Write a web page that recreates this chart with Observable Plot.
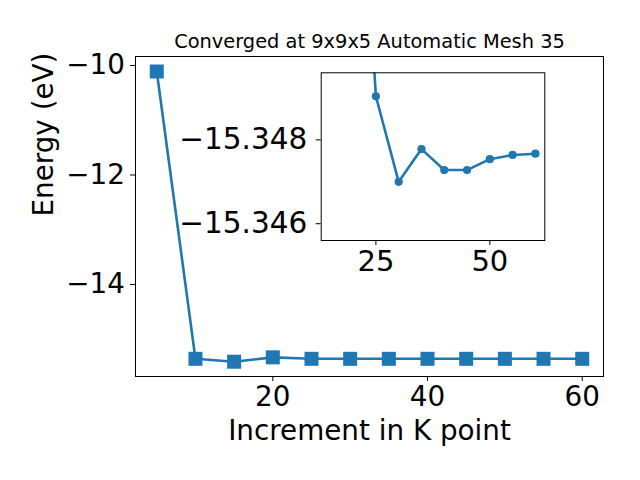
<!DOCTYPE html>
<html>
<head>
<meta charset="utf-8">
<script src="https://cdn.jsdelivr.net/npm/d3@7"></script>
<script src="https://cdn.jsdelivr.net/npm/@observablehq/plot@0.6"></script>
<style>
  html, body { margin: 0; padding: 0; background: white; }
  #wrap { position: relative; width: 640px; height: 480px; overflow: hidden; }
  #wrap svg { position: absolute; left: 0; top: 0; }
</style>
</head>
<body>
<div id="wrap"></div>
<script>
// Main series
const kPoints = [5, 10, 15, 20, 25, 30, 35, 40, 45, 50, 55, 60];
const energies = [-10.11, -15.357, -15.41, -15.33, -15.357, -15.357, -15.357, -15.357, -15.357, -15.357, -15.357, -15.357];
// Inset series (zoomed view)
const insetK = [20, 25, 30, 35, 40, 45, 50, 55, 60];
const insetE = [-15.3578, -15.34904, -15.3470, -15.34778, -15.34728, -15.34728, -15.34754, -15.34764, -15.34767];
const mainXTicks = [20, 40, 60];
const mainYTicks = [-10, -12, -14];
const insetXTicks = [25, 50];
const insetYTicks = [-15.348, -15.346];
const titleText = "Converged at 9x9x5 Automatic Mesh 35";
const xLabel = "Increment in K point";
const yLabel = "Energy (eV)";

const blue = "#1f77b4";
const font = "DejaVu Sans, sans-serif";

const main = kPoints.map((k, i) => ({k, e: energies[i]}));
const inset = insetK.map((k, i) => ({k, e: insetE[i]}));

const fmtInt = d3.format("d");
const fmt3 = d3.format(".3f");

const mainPlot = Plot.plot({
  width: 640,
  height: 480,
  marginLeft: 135,
  marginRight: 37,
  marginTop: 56,
  marginBottom: 104,
  style: {fontFamily: font, background: "transparent", color: "black"},
  x: {domain: [2.25, 62.75]},
  y: {domain: [-15.68, -9.836]},
  marks: [
    Plot.axisX({ticks: mainXTicks, tickSize: 5, tickPadding: 5, fontSize: 27.8, label: null, tickFormat: fmtInt}),
    Plot.axisY({ticks: mainYTicks, tickSize: 5, tickPadding: 5.5, fontSize: 27.8, label: null, tickFormat: fmtInt}),
    Plot.line(main, {x: "k", y: "e", stroke: blue, strokeWidth: 2.6}),
    Plot.dot(main, {x: "k", y: "e", symbol: "square", r: 7.9, fill: blue, stroke: "none"}),
    Plot.frame({stroke: "black", strokeWidth: 1}),
    Plot.text([titleText], {frameAnchor: "top", lineAnchor: "bottom", dy: -8.3, fontSize: 19.4, fill: "black"}),
    Plot.text([xLabel], {frameAnchor: "bottom", lineAnchor: "top", dy: 44, fontSize: 27.8, fill: "black"}),
    Plot.text([yLabel], {frameAnchor: "left", dx: -91, rotate: -90, fontSize: 27.8, fill: "black"})
  ]
});

const insetPlot = Plot.plot({
  width: 640,
  height: 480,
  marginLeft: 320.7,
  marginRight: 95.7,
  marginTop: 72.3,
  marginBottom: 240,
  style: {fontFamily: font, background: "transparent", color: "black", overflow: "visible"},
  x: {domain: [13.0, 62.06]},
  y: {domain: [-15.3496, -15.3456], reverse: true},
  marks: [
    Plot.frame({fill: "white", stroke: "none"}),
    Plot.axisX({ticks: insetXTicks, tickSize: 5, tickPadding: 5, fontSize: 29, label: null, tickFormat: fmtInt}),
    Plot.axisY({ticks: insetYTicks, tickSize: 5, tickPadding: 9, fontSize: 29.5, label: null, tickFormat: fmt3}),
    Plot.line(inset, {x: "k", y: "e", stroke: blue, strokeWidth: 2.6, clip: true}),
    Plot.dot(inset, {x: "k", y: "e", r: 4.1, fill: blue, stroke: "none", clip: true}),
    Plot.frame({stroke: "black", strokeWidth: 1})
  ]
});

const wrap = document.getElementById("wrap");
wrap.appendChild(mainPlot);
wrap.appendChild(insetPlot);
</script>
</body>
</html>
